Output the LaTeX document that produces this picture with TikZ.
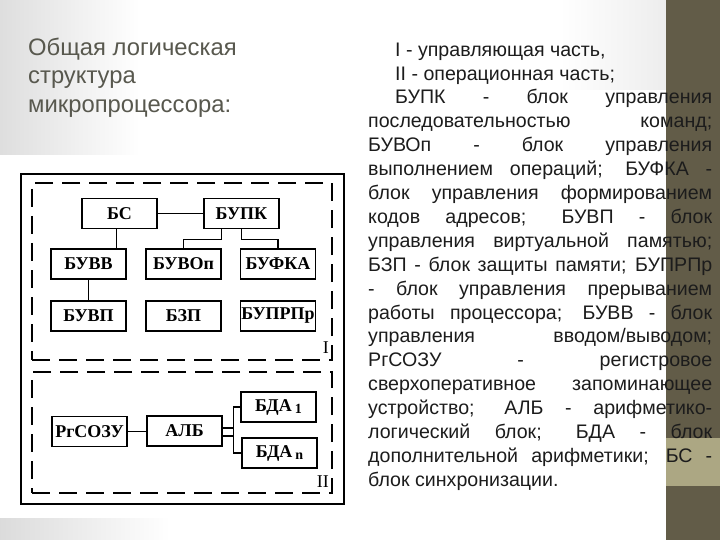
\documentclass[tikz,border=0pt]{standalone}
\usepackage{fontspec}
\setmainfont{Liberation Sans}
\newfontfamily\schemefont{Liberation Serif}
\usepackage{tikz}
\usetikzlibrary{positioning,fit}

\definecolor{stripe}{RGB}{98,92,72}
\definecolor{stripelight}{RGB}{172,167,131}
\definecolor{titlegray}{RGB}{88,88,78}
\definecolor{textdark}{RGB}{28,28,28}

\begin{document}
\begin{tikzpicture}[x=1pt,y=-1pt,link/.style = {line width=1.1pt}]
	\tikzset{block/.style={draw,rectangle,line width=1.8pt,minimum width=75pt,minimum height=30pt,inner sep=0pt,align=center,font=\schemefont\bfseries\fontsize{18}{18}\selectfont}}
	\tikzset{part/.style={draw,rectangle,line width=1.4pt,dash pattern=on 18pt off 9pt,inner sep=0pt}}

	% Fondo
	\useasboundingbox (0,0) rectangle (720,540);
	\fill[white] (0,0) rectangle (720,540);
	\shade[left color=black!13,right color=white] (0,0) rectangle (140,155);
	\shade[left color=white,right color=black!7] (560,0) rectangle (666,90);
	\shade[left color=black!14,right color=white] (0,518) rectangle (170,540);
	\fill[stripe] (666,0) rectangle (720,540);
	\fill[stripelight] (666,438) rectangle (720,486);
	\fill[white] (0,155) rectangle (352,518);

	% Titulo
	\node[anchor=north west,align=left,inner sep=0pt,text=titlegray,font=\fontsize{23.8}{28.5}\selectfont] (title) at (28,37.5) {Общая логическая\\структура\\микропроцессора:};

	% Marcos
	\node[fit={(21,174) (344,504)}, draw=black, line width=1.5pt, inner sep=0pt] (frame) {};
	\node[part, fit={(32,183) (332,360)}] (partI) {};
	\node[part, fit={(32,372) (332,493)}] (partII) {};
	\node[anchor=base east,inner sep=0pt,font=\schemefont\fontsize{18}{18}\selectfont] (labI) at (329,353) {I};
	\node[anchor=base east,inner sep=0pt,font=\schemefont\fontsize{18}{18}\selectfont] (labII) at (329,487) {II};

	% Parte I
	\node[block] (bs) at (119.5,213.5) {БС};
	\node[block] (bupk) at (241.5,213.5) {БУПК};
	\node[block] (buvv) at (88.5,264) {БУВВ};
	\node[block] (buvop) at (183.5,264) {БУВОп};
	\node[block] (bufka) at (278,264) {БУФКА};
	\node[block, below=20pt of buvv] (buvp) {БУВП};
	\node[block, below=20pt of buvop] (bzp) {БЗП};
	\node[block, below=20pt of bufka] (buprpr) {БУПРПр};

	\draw [link] (bs.east) -- (bupk.west);
	\draw [link] ([xshift=-3pt]bs.south) -- ([xshift=-3pt]bs.south |- buvv.north);
	\draw [link] (buvv.south) -- (buvp.north);
	\draw [link] ([xshift=-20pt]bupk.south) -- ++(0,10) -| (buvop.north);
	\draw [link] (bupk.south) -- ++(0,10) -| (bufka.north);

	% Parte II
	\node[block] (rgsozu) at (89.5,431.5) {РгСОЗУ};
	\node[block] (alb) at (184.5,431) {АЛБ};
	\node[block] (bdaone) at (278.5,407) {БДА\,\raisebox{-0.35ex}{\fontsize{14}{14}\selectfont 1}};
	\node[block] (bdan) at (279.5,453) {БДА\,\raisebox{-0.35ex}{\fontsize{14}{14}\selectfont n}};

	\draw [link] (rgsozu.east) -- (rgsozu.east -| alb.west);
	\draw [link] ([yshift=-5pt]alb.east) -- ++(11,0) |- (bdaone.west);
	\draw [link] ([yshift=3pt]alb.east) -- ++(11,0) |- (bdan.west);

	% Leyenda
	\node[anchor=north west,text width=344pt,align=justify,inner sep=0pt,text=textdark,font=\fontsize{19.6}{23.9}\selectfont] (legend) at (368,42.5) {%
		\tolerance=10000\hbadness=10000
		\hspace*{27pt}I - управляющая часть,\par
		\hspace*{27pt}II - операционная часть;\par
		\hspace*{27pt}БУПК - блок управления\linebreak
		последовательностью команд;\linebreak
		БУВОп - блок управления\linebreak
		выполнением операций; БУФКА -\linebreak
		блок управления формированием\linebreak
		кодов адресов; БУВП - блок\linebreak
		управления виртуальной памятью;\linebreak
		БЗП - блок защиты памяти; БУПРПр\linebreak
		- блок управления прерыванием\linebreak
		работы процессора; БУВВ - блок\linebreak
		управления вводом/выводом;\linebreak
		РгСОЗУ - регистровое\linebreak
		сверхоперативное запоминающее\linebreak
		устройство; АЛБ - арифметико-\linebreak
		логический блок; БДА - блок\linebreak
		дополнительной арифметики; БС -\linebreak
		блок синхронизации.\par};

\end{tikzpicture}
\end{document}
